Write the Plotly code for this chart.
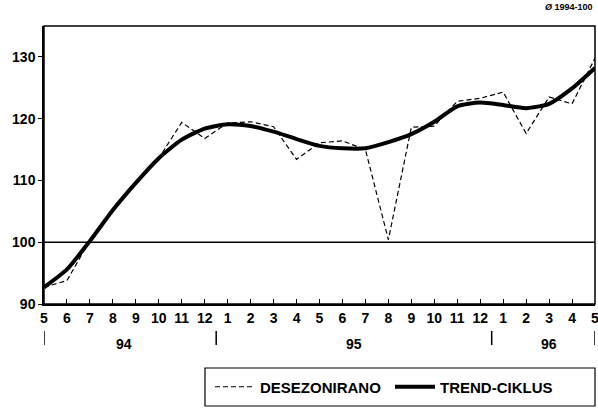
import plotly.graph_objects as go

months = ["5", "6", "7", "8", "9", "10", "11", "12", "1", "2", "3", "4", "5", "6", "7", "8",
          "9", "10", "11", "12", "1", "2", "3", "4", "5"]
years = ["94", "95", "96"]
year_pos = [3.5, 13.5, 22]
year_sep = [0, 7.5, 19.5, 24]

desezonirano = [92.7, 93.8, 100.3, 105.2, 109.6, 113.6, 119.4, 116.8, 119.3, 119.5, 118.7, 113.4,
                116.1, 116.4, 115.0, 100.4, 118.6, 118.8, 122.8, 123.3, 124.3, 117.6, 123.5, 122.4, 129.8]
trend = [92.7, 95.6, 100.2, 105.2, 109.6, 113.6, 116.6, 118.4, 119.1, 118.8, 117.9, 116.7,
         115.6, 115.2, 115.2, 116.2, 117.5, 119.5, 122.0, 122.6, 122.2, 121.7, 122.4, 124.9, 128.2]

x = list(range(len(months)))
FONT = "Liberation Sans, Arial, sans-serif"
H = 278.0  # plot height in px


def py(pix):
    return (304 - pix) / H


def px(pix):
    return (pix - 44) / 551.0


fig = go.Figure()
fig.add_trace(go.Scatter(x=x, y=desezonirano, mode="lines", name="DESEZONIRANO",
                         line=dict(color="black", width=1.2, dash="5px,3px")))
fig.add_trace(go.Scatter(x=x, y=trend, mode="lines", name="TREND-CIKLUS",
                         line=dict(color="black", width=4, shape="spline", smoothing=0.6)))

fig.add_shape(type="line", xref="x", yref="y", x0=0, x1=24, y0=100, y1=100,
              line=dict(color="black", width=1.5))
fig.add_shape(type="rect", xref="paper", yref="paper", x0=0, x1=1, y0=0, y1=1,
              line=dict(color="black", width=1.5))
# legend frame
fig.add_shape(type="rect", xref="paper", yref="paper", x0=px(205), x1=px(595), y0=py(368), y1=py(406),
              line=dict(color="black", width=1.2))

for s in year_sep:
    fig.add_shape(type="line", xref="x", yref="paper", x0=s, x1=s,
                  y0=py(331), y1=py(345), line=dict(color="black", width=1.5))
for yl, xp in zip(years, year_pos):
    fig.add_annotation(x=xp, y=py(334), xref="x", yref="paper", text=yl, yanchor="top",
                       showarrow=False, font=dict(size=14, color="black", family=FONT, weight="bold"))

fig.add_annotation(x=1, y=py(7), xref="paper", yref="paper", xanchor="right", yanchor="middle",
                   text="<i>Ø</i> 1994-100", showarrow=False,
                   font=dict(size=9, color="black", family=FONT, weight="bold"))

fig.update_xaxes(range=[0, 24], tickvals=x, ticktext=months, ticks="inside", ticklen=5,
                 tickcolor="black", tickwidth=1.2, showgrid=False, zeroline=False,
                 showline=True, linecolor="black", linewidth=1.5, automargin=False,
                 ticklabeloverflow="allow",
                 tickfont=dict(size=14, color="black", family=FONT, weight="bold"))
fig.update_yaxes(range=[90, 135], tickvals=[90, 100, 110, 120, 130], ticks="outside", ticklen=4,
                 tickcolor="black", tickwidth=1.2, showgrid=False, zeroline=False,
                 showline=True, linecolor="black", linewidth=1.5, automargin=False,
                 tickfont=dict(size=14, color="black", family=FONT, weight="bold"))

fig.update_layout(
    width=598, height=416,
    margin=dict(l=44, r=3, t=26, b=112, autoexpand=False),
    paper_bgcolor="white", plot_bgcolor="white",
    showlegend=True,
    legend=dict(orientation="h", x=px(210), xanchor="left", y=py(387), yanchor="middle",
                borderwidth=0, bgcolor="rgba(0,0,0,0)",
                font=dict(size=15, color="black", family=FONT, weight="bold"),
                entrywidth=125, itemwidth=40),
)

fig.write_html("out.html", config={"displayModeBar": False},
               post_script="document.body.style.margin='0';document.body.style.padding='0';")
